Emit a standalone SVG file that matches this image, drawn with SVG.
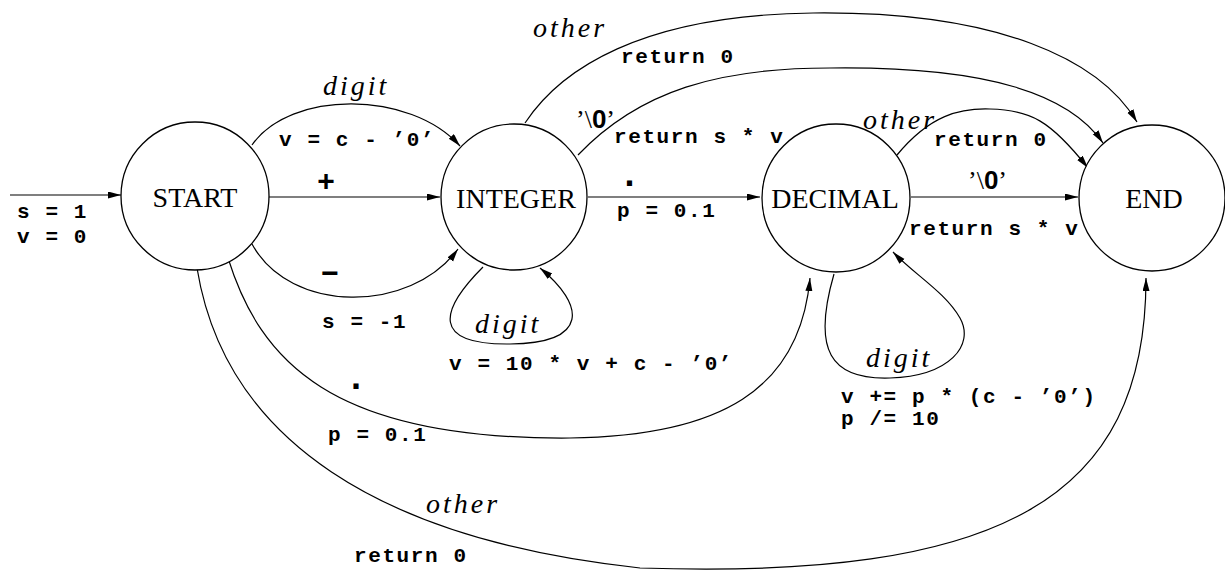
<svg xmlns="http://www.w3.org/2000/svg" width="1225" height="571" viewBox="0 0 1225 571">
<style>
.node circle{fill:#fff;stroke:#000;stroke-width:1.3}
.node text{font-family:"Liberation Serif",serif;font-size:28px;text-anchor:middle;fill:#000}
.edges path{fill:none;stroke:#000;stroke-width:1.2;marker-end:url(#ah)}
.tt{font-family:"Liberation Mono",monospace;font-weight:bold;font-size:21px;letter-spacing:1.6px;fill:#000}
.it{font-family:"Liberation Serif",serif;font-style:italic;font-size:28px;letter-spacing:3px;fill:#000}
.sym{font-family:"Liberation Sans",sans-serif;font-weight:bold;fill:#000}
.q{font-family:"Liberation Serif",serif;font-size:26px;fill:#000}
.q tspan{font-family:"Liberation Sans",sans-serif;font-weight:bold}
</style>
<defs>
<marker id="ah" markerUnits="userSpaceOnUse" markerWidth="14" markerHeight="8" refX="13" refY="3.5" orient="auto">
<path d="M0,0 L13,3.5 L0,7 z" fill="#000"/>
</marker>
</defs>
<rect width="1225" height="571" fill="#fff"/>
<g class="edges">
<path d="M10,195 L121,195"/>
<path d="M269,197 L440,197"/>
<path d="M252,145 C290,90 410,90 460,146"/>
<path d="M252,244 C290,314 410,314 458,249"/>
<path d="M483,267 C440,310 430,345 510,344 C590,343 585,305 540,268"/>
<path d="M228,258 C260,360 330,440 570,438 C720,436 800,390 810,278"/>
<path d="M197,268 C225,440 380,540 640,568 C1000,580 1146,500 1146,278"/>
<path d="M525,123 C560,70 640,15 813,13 C1000,11 1100,60 1137,122"/>
<path d="M578,155 C640,90 720,68 830,68 C990,66 1070,95 1103,143"/>
<path d="M588,197 L760,197"/>
<path d="M897,155 C930,115 960,108 990,109 C1030,110 1050,120 1088,168"/>
<path d="M911,197 L1078,197"/>
<path d="M834,274 C812,350 830,380 890,378 C950,376 975,345 960,318 C945,292 915,275 893,252"/>
</g>
<g id="start" class="node"><circle cx="195" cy="196" r="74"/><text x="195" y="207">START</text></g>
<g id="integer" class="node"><circle cx="514" cy="197" r="73"/><text x="516" y="208">INTEGER</text></g>
<g id="decimal" class="node"><circle cx="836" cy="198" r="74"/><text x="835" y="208">DECIMAL</text></g>
<g id="end" class="node"><circle cx="1152" cy="198" r="73"/><text x="1154" y="208">END</text></g>
<g id="labels">
<text class="tt" x="17" y="218">s = 1</text>
<text class="tt" x="17" y="243">v = 0</text>
<text class="it" x="323" y="95">digit</text>
<text class="tt" x="279" y="146">v = c - ’0’</text>
<text class="sym" x="326" y="191" font-size="30" text-anchor="middle">+</text>
<text class="sym" x="330" y="283" font-size="30" text-anchor="middle">−</text>
<text class="tt" x="322" y="328">s = -1</text>
<text class="it" x="475" y="333">digit</text>
<text class="tt" x="449" y="370">v = 10 * v + c - ’0’</text>
<text class="sym" x="356" y="389" font-size="36" text-anchor="middle">.</text>
<text class="tt" x="328" y="441">p = 0.1</text>
<text class="it" x="426" y="513">other</text>
<text class="tt" x="354" y="562">return 0</text>
<text class="it" x="533" y="37">other</text>
<text class="tt" x="621" y="63">return 0</text>
<text class="q" x="576" y="128">’\<tspan>0</tspan>’</text>
<text class="tt" x="614" y="143">return s * v</text>
<text class="sym" x="629.5" y="185.5" font-size="36" text-anchor="middle">.</text>
<text class="tt" x="617" y="217">p = 0.1</text>
<text class="it" x="863" y="129">other</text>
<text class="tt" x="934" y="146">return 0</text>
<text class="q" x="968" y="189">’\<tspan>0</tspan>’</text>
<text class="tt" x="909" y="235">return s * v</text>
<text class="it" x="866" y="367">digit</text>
<text class="tt" x="841" y="403">v += p * (c - ’0’)</text>
<text class="tt" x="841" y="425">p /= 10</text>
</g>
</svg>
